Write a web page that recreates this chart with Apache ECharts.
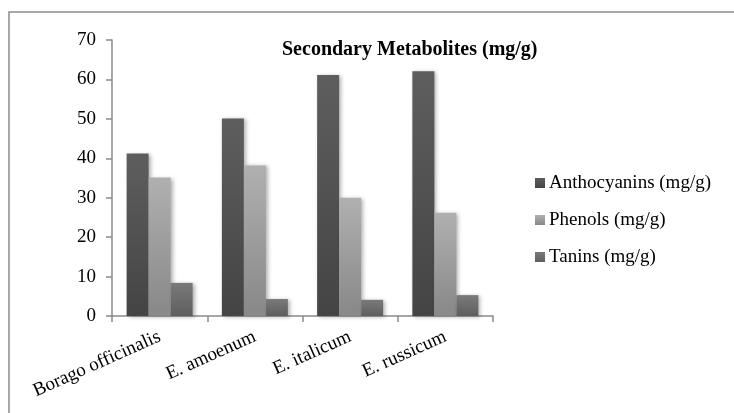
<!DOCTYPE html>
<html>
<head>
<meta charset="utf-8">
<script src="https://cdn.jsdelivr.net/npm/echarts@6/dist/echarts.min.js"></script>
<style>html,body{margin:0;padding:0;background:#fff;}#c{width:734px;height:413px;}</style>
</head>
<body>
<div id="c"></div>
<script>
var categories = ['Borago officinalis', 'E. amoenum', 'E. italicum', 'E. russicum'];
var anthocyanins = [41.2, 50.1, 61.1, 62.1];
var phenols = [35.1, 38.2, 30.0, 26.2];
var tanins = [8.4, 4.3, 4.1, 5.3];
var seriesNames = ['Anthocyanins (mg/g)', 'Phenols (mg/g)', 'Tanins (mg/g)'];
var yTicks = [0, 10, 20, 30, 40, 50, 60, 70];

var FONT = '"Liberation Serif", "Times New Roman", serif';
function grad(top, bottom) {
  return new echarts.graphic.LinearGradient(0, 0, 0, 1, [
    {offset: 0, color: top}, {offset: 1, color: bottom}
  ]);
}
function barSeries(name, data, top, bottom) {
  return {
    name: name, type: 'bar', data: data, barWidth: 22, barGap: '0%',
    itemStyle: {
      color: grad(top, bottom),
      shadowBlur: 4, shadowOffsetX: 2, shadowOffsetY: 1, shadowColor: 'rgba(0,0,0,0.3)'
    }
  };
}
var chart = echarts.init(document.getElementById('c'), null, {renderer: 'canvas'});
chart.setOption({
  animation: false,
  backgroundColor: '#fff',
  title: {
    text: 'Secondary Metabolites (mg/g)',
    left: 277, top: 35,
    textStyle: {fontFamily: FONT, fontSize: 20, fontWeight: 'bold', color: '#000'}
  },
  legend: {
    orient: 'vertical', left: 530, top: 168,
    itemWidth: 10, itemHeight: 10, itemGap: 17,
    icon: 'rect',
    textStyle: {fontFamily: FONT, fontSize: 19, color: '#000', lineHeight: 20, padding: [0, 0, 0, -1]},
    data: seriesNames
  },
  grid: {left: 112, right: 241, top: 40, bottom: 97, containLabel: false},
  xAxis: {
    type: 'category', data: categories,
    axisLine: {lineStyle: {color: '#8a8a8a', width: 1.5}},
    axisTick: {show: true, length: 6, alignWithLabel: false, lineStyle: {color: '#8a8a8a', width: 1.5}},
    axisLabel: {rotate: 24, margin: 20, fontFamily: FONT, fontSize: 19, color: '#000', interval: 0}
  },
  yAxis: {
    type: 'value', min: 0, max: 70, interval: 10,
    axisLine: {show: true, lineStyle: {color: '#8a8a8a', width: 1.5}},
    axisTick: {show: true, length: 6, lineStyle: {color: '#8a8a8a', width: 1.5}},
    splitLine: {show: false},
    axisLabel: {
      margin: 16, fontFamily: FONT, fontSize: 19, color: '#000',
      formatter: function (v) { return yTicks.indexOf(v) >= 0 ? String(v) : ''; }
    }
  },
  series: [
    barSeries(seriesNames[0], anthocyanins, '#5e5e5e', '#444444'),
    barSeries(seriesNames[1], phenols, '#b0b0b0', '#888888'),
    barSeries(seriesNames[2], tanins, '#7a7a7a', '#5e5e5e')
  ],
  graphic: [
    {type: 'polyline', shape: {points: [[9, 413], [9, 12], [734, 12]]}, style: {stroke: '#8c8c8c', lineWidth: 1.5, fill: null}}
  ]
});
</script>
</body>
</html>
